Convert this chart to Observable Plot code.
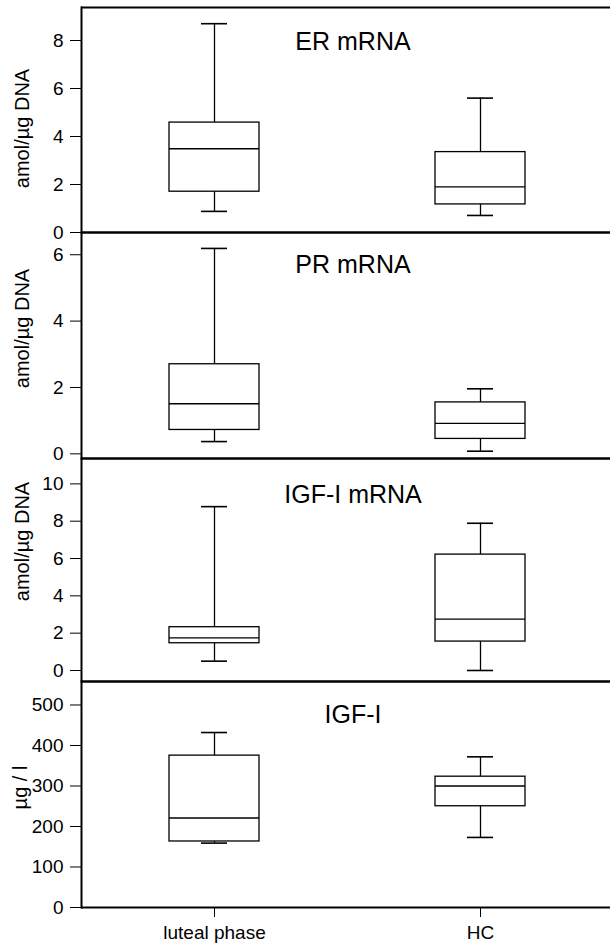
<!DOCTYPE html>
<html>
<head>
<meta charset="utf-8">
<script src="https://cdn.jsdelivr.net/npm/d3@7"></script>
<script src="https://cdn.jsdelivr.net/npm/@observablehq/plot@0.6"></script>
<style>
  html, body { margin: 0; padding: 0; background: white; overflow: hidden; }
  #root { position: relative; width: 610px; height: 943px; overflow: hidden; }
  #root svg { position: absolute; left: 0; overflow: visible; background: transparent; }
</style>
</head>
<body>
<div id="root"></div>
<script>
// Categories
const groups = ["luteal phase", "HC"];

// ER mRNA (amol/µg DNA)
const erMin = [0.88, 0.71];
const erQ1  = [1.70, 1.17];
const erMed = [3.49, 1.90];
const erQ3  = [4.58, 3.35];
const erMax = [8.70, 5.60];
const erTicks = [0, 2, 4, 6, 8];

// PR mRNA (amol/µg DNA)
const prMin = [0.37, 0.08];
const prQ1  = [0.72, 0.45];
const prMed = [1.51, 0.92];
const prQ3  = [2.70, 1.55];
const prMax = [6.19, 1.96];
const prTicks = [0, 2, 4, 6];

// IGF-I mRNA (amol/µg DNA)
const igfmMin = [0.50, 0.00];
const igfmQ1  = [1.46, 1.55];
const igfmMed = [1.75, 2.75];
const igfmQ3  = [2.32, 6.21];
const igfmMax = [8.78, 7.89];
const igfmTicks = [0, 2, 4, 6, 8, 10];

// IGF-I (µg / l)
const igfMin = [159, 173];
const igfQ1  = [163, 250];
const igfMed = [221, 300];
const igfQ3  = [375, 323];
const igfMax = [432, 372];
const igfTicks = [0, 100, 200, 300, 400, 500];

const FONT = "'Liberation Sans', Arial, Helvetica, sans-serif";

function panel(o) {
  const rows = groups.map((g, i) => ({
    group: g, min: o.min[i], q1: o.q1[i], med: o.med[i], q3: o.q3[i], max: o.max[i]
  }));
  const sw = 1.3;
  const marks = [
    Plot.ruleX(rows, {x: "group", y1: "min", y2: "q1", stroke: "black", strokeWidth: sw}),
    Plot.ruleX(rows, {x: "group", y1: "q3", y2: "max", stroke: "black", strokeWidth: sw}),
    Plot.barY(rows, {x: "group", y1: "q1", y2: "q3", fill: "white", stroke: "black", strokeWidth: sw}),
    Plot.tickY(rows, {x: "group", y: "med", stroke: "black", strokeWidth: sw}),
    Plot.tickY(rows, {x: "group", y: "min", insetLeft: 32, insetRight: 32, stroke: "black", strokeWidth: 1.6}),
    Plot.tickY(rows, {x: "group", y: "max", insetLeft: 32, insetRight: 32, stroke: "black", strokeWidth: 1.6}),
    Plot.ruleY([o.domain[0]], {stroke: "black", strokeWidth: 2}),
    Plot.ruleY([o.domain[1]], {stroke: "black", strokeWidth: 2}),
    Plot.frame({anchor: "left", stroke: "black", strokeWidth: 2}),
    Plot.text([o.title], {text: d => d, frameAnchor: "top", dx: 7, dy: o.titleDy, lineAnchor: "middle",
      fontSize: 25, fill: "black"}),
    Plot.text([o.ylabel], {text: d => d, frameAnchor: "left", dx: o.labelDx, dy: o.labelDy, rotate: -90,
      textAnchor: "middle", lineAnchor: "middle", fontSize: 20, fill: "black"})
  ];
  const svg = Plot.plot({
    width: 610,
    height: o.height,
    marginLeft: 81,
    marginRight: 0,
    marginTop: o.marginTop,
    marginBottom: o.marginBottom,
    style: {fontFamily: FONT, fontSize: "19px", color: "black", background: "transparent", overflow: "visible"},
    x: {
      type: "band", domain: groups, range: [81, 613], paddingInner: 0.662, paddingOuter: 0.331, align: 0.5,
      axis: o.xAxis ? "bottom" : null, label: null, tickSize: 10, tickPadding: 8
    },
    y: {domain: o.domain, ticks: o.ticks, tickFormat: d => String(d), tickSize: 11, tickPadding: 7, label: null},
    marks
  });
  svg.style.top = o.top + "px";
  document.getElementById("root").appendChild(svg);
}

panel({min: erMin, q1: erQ1, med: erMed, q3: erQ3, max: erMax, ticks: erTicks,
  domain: [0, 9.375], top: 0, height: 232, marginTop: 7, marginBottom: 0,
  title: "ER mRNA", titleDy: 34.5, ylabel: "amol/µg DNA", labelDx: -59, labelDy: 8.5});

panel({min: prMin, q1: prQ1, med: prMed, q3: prQ3, max: prMax, ticks: prTicks,
  domain: [-0.14, 6.67], top: 232, height: 226, marginTop: 0, marginBottom: 0,
  title: "PR mRNA", titleDy: 32.5, ylabel: "amol/µg DNA", labelDx: -59, labelDy: -17});

panel({min: igfmMin, q1: igfmQ1, med: igfmMed, q3: igfmQ3, max: igfmMax, ticks: igfmTicks,
  domain: [-0.59, 11.36], top: 458, height: 223, marginTop: 0, marginBottom: 0,
  title: "IGF-I mRNA", titleDy: 36, ylabel: "amol/µg DNA", labelDx: -59, labelDy: -28.5});

panel({min: igfMin, q1: igfQ1, med: igfMed, q3: igfQ3, max: igfMax, ticks: igfTicks,
  domain: [0, 558], top: 681, height: 262, marginTop: 0, marginBottom: 36, xAxis: true,
  title: "IGF-I", titleDy: 33, ylabel: "µg / l", labelDx: -61, labelDy: -7});
</script>
</body>
</html>
